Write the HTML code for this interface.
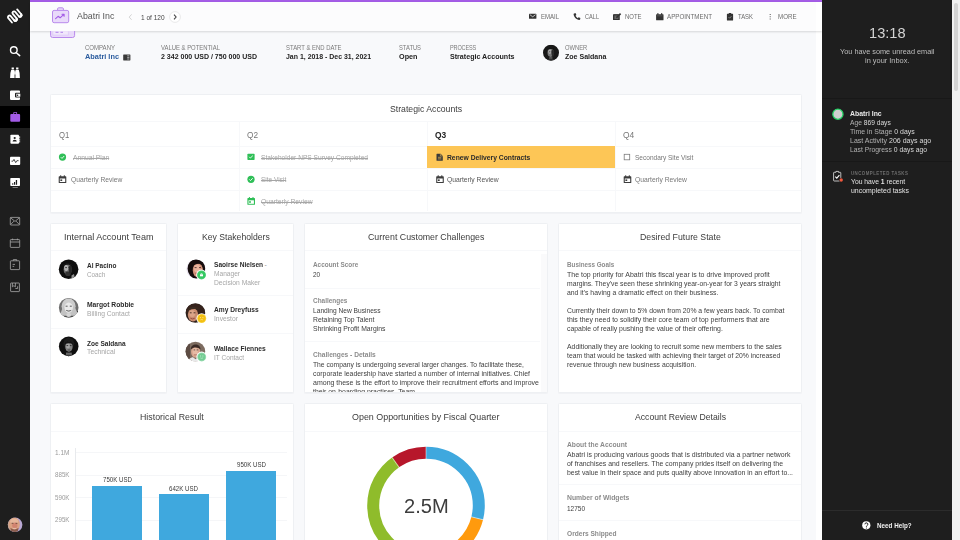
<!DOCTYPE html>
<html lang="en">
<head>
<meta charset="utf-8">
<title>Abatri Inc</title>
<style>
*{box-sizing:border-box;margin:0;padding:0}
html,body{width:960px;height:540px;overflow:hidden}
body{position:relative;background:#f8f9fb;font-family:"Liberation Sans",sans-serif;color:#333}
.abs,.t,.card,.hl,.vl,svg.i{position:absolute}
.t{white-space:nowrap;transform-origin:0 50%;display:block}
.card{background:#fff;border:1px solid #eef0f3;border-radius:1.5px;box-shadow:0 1px 1px rgba(30,40,60,.03)}
.hl{height:1px;background:#f7f8fa}
.vl{width:1px;background:#f7f8fa}
#side{left:0;top:0;width:30px;height:540px;background:#1e1e1e}
#side .act{left:0;top:106px;width:30px;height:22px;background:#000}
#topbar{left:30px;top:0;width:792px;height:1.8px;background:#a45ce6}
#hdr{left:30px;top:1.8px;width:792px;height:28.9px;background:#fcfcfd;box-shadow:0 1px 2px rgba(0,0,0,.14)}
#rp{left:822px;top:0;width:130px;height:540px;background:#1e1e1e}
#sb{left:952px;top:0;width:8px;height:540px;background:#f1f1f1}
#sb i{position:absolute;left:2px;top:3px;width:4px;height:88px;border-radius:2px;background:#d4d4d4}
</style>
</head>
<body>
<!-- main chrome -->
<div class="abs" id="side"><div class="abs act"></div></div>
<div class="abs" id="topbar"></div>
<div class="abs" style="left:816px;top:1.8px;width:6px;height:540px;background:#fff"></div>
<div class="abs" id="hdr"></div>
<div class="abs" style="left:816px;top:1.8px;width:6px;height:28.9px;background:#fff"></div>
<div class="abs" id="rp"></div>
<div class="abs" id="sb"><i></i></div>

<!-- cards -->
<div class="card" style="left:50px;top:94px;width:752px;height:119px"></div>
<div class="card" style="left:50px;top:223px;width:117px;height:170px"></div>
<div class="card" style="left:177px;top:223px;width:117px;height:170px"></div>
<div class="card" style="left:304px;top:223px;width:244px;height:170px"></div>
<div class="card" style="left:558px;top:223px;width:244px;height:170px"></div>
<div class="card" style="left:50px;top:403px;width:244px;height:150px"></div>
<div class="card" style="left:304px;top:403px;width:244px;height:150px"></div>
<div class="card" style="left:558px;top:403px;width:244px;height:150px"></div>

<!-- strategic accounts grid -->
<div class="hl" style="left:51px;top:121px;width:750px"></div>
<div class="hl" style="left:51px;top:146px;width:750px"></div>
<div class="hl" style="left:51px;top:168px;width:750px"></div>
<div class="hl" style="left:51px;top:190px;width:750px"></div>
<div class="vl" style="left:239px;top:121px;height:90px"></div>
<div class="vl" style="left:427px;top:121px;height:90px"></div>
<div class="vl" style="left:615px;top:121px;height:90px"></div>
<div class="abs" style="left:427px;top:146px;width:188px;height:22px;background:#fdc656"></div>

<!-- row2 card dividers -->
<div class="hl" style="left:51px;top:250px;width:115px"></div>
<div class="hl" style="left:51px;top:288.5px;width:115px"></div>
<div class="hl" style="left:51px;top:327.5px;width:115px"></div>
<div class="hl" style="left:178px;top:250px;width:115px"></div>
<div class="hl" style="left:178px;top:294.5px;width:115px"></div>
<div class="hl" style="left:178px;top:332.5px;width:115px"></div>
<div class="hl" style="left:305px;top:250px;width:242px"></div>
<div class="hl" style="left:305px;top:287.5px;width:235px"></div>
<div class="hl" style="left:305px;top:340.5px;width:235px"></div>
<div class="abs" style="left:540.5px;top:254px;width:6px;height:137.5px;background:#fafafb"></div>
<div class="hl" style="left:559px;top:250px;width:242px"></div>

<!-- row3 card dividers -->
<div class="hl" style="left:51px;top:430.5px;width:242px"></div>
<div class="hl" style="left:305px;top:430.5px;width:242px"></div>
<div class="hl" style="left:559px;top:430.5px;width:242px"></div>
<div class="hl" style="left:559px;top:484px;width:242px"></div>
<div class="hl" style="left:559px;top:519.5px;width:242px"></div>

<!-- bar chart -->
<div class="hl" style="left:75.5px;top:452px;width:211px;background:#f5f6f8"></div>
<div class="hl" style="left:75.5px;top:474.5px;width:211px;background:#f5f6f8"></div>
<div class="hl" style="left:75.5px;top:497px;width:211px;background:#f5f6f8"></div>
<div class="hl" style="left:75.5px;top:519.5px;width:211px;background:#f5f6f8"></div>
<div class="vl" style="left:75px;top:448px;height:92px;background:#e8eaed"></div>
<div class="abs" style="left:92px;top:486px;width:50px;height:54px;background:#3fa8de"></div>
<div class="abs" style="left:159.2px;top:494.4px;width:50px;height:46px;background:#3fa8de"></div>
<div class="abs" style="left:226.3px;top:471px;width:50px;height:69px;background:#3fa8de"></div>

<!-- donut -->
<svg class="i" style="left:360px;top:440px" width="140" height="100" viewBox="360 440 140 100">
 <g fill="none" stroke-width="12" transform="rotate(-90 426 505.5)">
  <circle cx="426" cy="505.5" r="52.8" stroke="#8fbc2b" stroke-dasharray="129.01 331.75" stroke-dashoffset="-170.48"/>
  <circle cx="426" cy="505.5" r="52.8" stroke="#ff9a0d" stroke-dasharray="75.66 331.75" stroke-dashoffset="-95.75"/>
  <circle cx="426" cy="505.5" r="52.8" stroke="#3fa8de" stroke-dasharray="95.84 331.75" stroke-dashoffset="-0.00"/>
  <circle cx="426" cy="505.5" r="52.8" stroke="#b7172b" stroke-dasharray="32.53 331.75" stroke-dashoffset="-299.22"/>
  <path d="M471.8,505.5h14" stroke="#fff" stroke-width=".5" transform="rotate(0 426 505.5)"/>
  <path d="M471.8,505.5h14" stroke="#fff" stroke-width=".5" transform="rotate(104 426 505.5)"/>
  <path d="M471.8,505.5h14" stroke="#fff" stroke-width=".5" transform="rotate(324.7 426 505.5)"/>
 </g>
</svg>

<!-- right panel dividers -->
<div class="hl" style="left:822px;top:98px;width:130px;background:#181818"></div>
<div class="hl" style="left:822px;top:161px;width:130px;background:#181818"></div>
<div class="hl" style="left:822px;top:510px;width:130px;background:#2c2c2c"></div>

<!-- sidebar icons -->
<svg class="i" style="left:0;top:0" width="30" height="540" viewBox="0 0 30 540">
 <!-- logo -->
 <g transform="translate(15.1 16) rotate(-40)" fill="none" stroke="#fff" stroke-linecap="round" stroke-linejoin="round">
  <path stroke-width="1.8" d="M-6.6,3 V-2.7 a1.55,1.55 0 0 1 3.1,0 V2.8 a1.55,1.55 0 0 0 3.1,0 V-3.1 a1.55,1.55 0 0 1 3.1,0 V2.6 a1.55,1.55 0 0 0 3.1,0 V-3.7"/>
  <path stroke-width="2.2" d="M-3.4,3 a1.5,1.5 0 0 0 2.9,0 M2.8,2.8 a1.5,1.5 0 0 0 2.9,0"/>
 </g>
 <!-- search -->
 <circle cx="13.8" cy="50.1" r="3.3" fill="none" stroke="#fff" stroke-width="1.4"/>
 <path d="M16.3,52.7 L19.7,55.6" stroke="#fff" stroke-width="1.5" stroke-linecap="round"/>
 <!-- binoculars -->
 <g fill="#fff">
  <path d="M11.6,67.6h2.3v2h-2.3z M16.1,67.6h2.3v2h-2.3z"/>
  <path d="M11.2,70.1h3.3l0.1,7.8h-4.5l0.3,-5z M15.5,70.1h3.3l0.8,2.8l0.3,5h-4.5z"/>
  <path d="M14.2,71.3h1.6v3.2h-1.6z"/>
 </g>
 <!-- wallet -->
 <path d="M11.2,90.4h7.8a1,1 0 0 1 1,1v1.4h-4a1,1 0 0 0 -1,1v2.6a1,1 0 0 0 1,1h4v1.5a1,1 0 0 1 -1,1h-7.8a1.2,1.2 0 0 1 -1.2,-1.2v-7.1a1.2,1.2 0 0 1 1.2,-1.2z" fill="#fff"/>
 <path d="M16.3,93.7h4v3h-4z" fill="#fff"/>
 <circle cx="17.5" cy="95.2" r="0.8" fill="#1e1e1e"/>
 <!-- briefcase (active) -->
 <path d="M13.3,114v-1.1a1,1 0 0 1 1,-1h1.8a1,1 0 0 1 1,1v1.1h2a1,1 0 0 1 1,1v5.7a1,1 0 0 1 -1,1h-7.8a1,1 0 0 1 -1,-1v-5.7a1,1 0 0 1 1,-1z M14.2,114h2v-1.2h-2z" fill="#a35be6" fill-rule="evenodd"/>
 <!-- contacts -->
 <path d="M11.3,134.7h6.8a.9,.9 0 0 1 .9,.9v7.2a.9,.9 0 0 1 -.9,.9h-6.8a.9,.9 0 0 1 -.9,-.9v-7.2a.9,.9 0 0 1 .9,-.9z" fill="#fff"/>
 <path d="M19.3,136.2h.8v1.8h-.8z M19.3,138.4h.8v1.8h-.8z M19.3,140.6h.8v1.8h-.8z" fill="#fff"/>
 <circle cx="14.7" cy="138" r="1.1" fill="#1e1e1e"/>
 <path d="M12.6,141.4a2.1,1.6 0 0 1 4.2,0z" fill="#1e1e1e"/>
 <!-- activity -->
 <rect x="10" y="156.7" width="10.2" height="8.3" rx="0.9" fill="#fff"/>
 <path d="M11.5,161.2h1.4l1.1,-1.8l1.7,3.2l1.2,-1.9h1.7" fill="none" stroke="#1e1e1e" stroke-width=".8" stroke-linejoin="round"/>
 <!-- chart -->
 <rect x="10.3" y="178" width="9.7" height="8" rx="0.8" fill="#fff"/>
 <path d="M12.2,184.7v-1.4h1.1v1.4z M14,184.7v-2.6h1.1v2.6z M15.8,184.7v-4.6h1.3v4.6z" fill="#1e1e1e"/>
 <path d="M12.6,187.2h5.2v.6h-5.2z" fill="#fff" opacity=".8"/>
 <!-- lower outline icons -->
 <g fill="none" stroke="#a8a8a8" stroke-width=".8" stroke-linejoin="round">
  <rect x="10.3" y="217.4" width="9.4" height="7.6" rx=".6"/>
  <path d="M10.6,217.8l4.4,3.6l4.4,-3.6 M10.6,224.6l3.2,-3.4 M19.4,224.6l-3.2,-3.4"/>
  <rect x="10.3" y="239.6" width="9.4" height="7.8" rx=".6"/>
  <path d="M10.3,242h9.4 M12.6,238.6v1.6 M17.4,238.6v1.6"/>
  <rect x="10.4" y="260.8" width="9.2" height="8.8" rx=".6"/>
  <path d="M13.3,260.8v-1.2h3.4v1.2 M12.6,264.4h2.4 M12.6,266.4h1.6"/>
  <rect x="10.6" y="283" width="8.8" height="8.6" rx=".5"/>
  <path d="M12.4,283v3.8l1.5,-1.1l1.5,1.1v-3.8 M15.4,288.5h2.2v-2.2"/>
 </g>
 <!-- user avatar -->
 <defs><filter id="blu" x="-20%" y="-20%" width="140%" height="140%"><feGaussianBlur stdDeviation="0.6"/></filter><clipPath id="cu"><circle cx="15.1" cy="524.8" r="7.3"/></clipPath></defs>
 <g clip-path="url(#cu)">
  <rect x="7" y="517" width="17" height="16" fill="#b9a8d4"/>
  <g filter="url(#blu)">
   <rect x="7" y="517" width="7" height="16" fill="#c9a58f"/>
   <ellipse cx="14.4" cy="524.4" rx="5.4" ry="6.8" fill="#dba283"/>
   <ellipse cx="14.2" cy="521.2" rx="4" ry="2.6" fill="#e6b79b"/>
   <ellipse cx="14.8" cy="525.4" rx="2.6" ry="2.8" fill="#cd7a68" opacity=".75"/>
   <path d="M10.400,527.800q4,3.600 8.200,0l-.6,3.200q-3.500,2.400 -7,0z" fill="#8b5d4d"/>
   <path d="M13,528.400h3" stroke="#ecd9cf" stroke-width=".6"/>
   <path d="M11.600,523.300h1.800 M15.600,523.300h1.800" stroke="#5a3a30" stroke-width=".8"/>
  </g>
 </g>
</svg>

<!-- header icons -->
<svg class="i" style="left:30px;top:0" width="792" height="92" viewBox="30 0 792 92">
 <!-- peeking big icon under header -->
 <path d="M50.6,31v4.500a2,2 0 0 0 2,2h20a2,2 0 0 0 2,-2v-4.500" fill="#e9dafa" stroke="#b98aec" stroke-width="1"/>
 <path d="M52.800,31.500v3.600h15.600v-3.600" fill="#f1e8fb" stroke="#d9c2f5" stroke-width=".6"/>
 <path d="M55.500,32.300h3 M60.500,32.300h2.500" stroke="#a777e6" stroke-width=".9"/>
</svg>
<svg class="i" style="left:30px;top:2px" width="792" height="28" viewBox="30 2 792 28">
 <!-- header briefcase w/ trend -->
 <path d="M57.6,10.4v-1.6a1,1 0 0 1 1,-1h3.8a1,1 0 0 1 1,1v1.6" fill="#e9dafa" stroke="#b98aec" stroke-width="1"/>
 <rect x="52.5" y="10.4" width="16.2" height="12.3" rx="1.6" fill="#e9dafa" stroke="#b98aec" stroke-width="1"/>
 <path d="M55.6,18.6l2.5,-2.3l2,1.5l3.7,-3.4 M62,14.2h2.1v2.1" fill="none" stroke="#a35be6" stroke-width="1.1" stroke-linejoin="round" stroke-linecap="round"/>
 <!-- nav chevrons -->
 <path d="M131.6,14.4l-2.4,2.7l2.4,2.7" fill="none" stroke="#d4d4d4" stroke-width="1"/>
 <circle cx="175" cy="17" r="5.4" fill="#fff" stroke="#e4e4e4" stroke-width=".8"/>
 <path d="M174,14.6l2.1,2.4l-2.1,2.4" fill="none" stroke="#444" stroke-width="1.1"/>
 <!-- email -->
 <g fill="#333">
 <path d="M529.6,13.8h6.2a.6,.6 0 0 1 .6,.6v3.8a.6,.6 0 0 1 -.6,.6h-6.200a.6,.6 0 0 1 -.6,-.6v-3.8a.6,.6 0 0 1 .6,-.6z"/>
 </g>
 <path d="M529.9,14.7l2.8,2.1l2.8,-2.1" fill="none" stroke="#fff" stroke-width=".7"/>
 <!-- call -->
 <path d="M574.2,13.4l1.3,-.3l.9,1.9l-.9,.8c.5,1 1.200,1.800 2.300,2.400l.8,-.9l1.800,.8l-.3,1.400c-.1,.3 -.4,.4 -.8,.4c-3,-.1 -5.700,-2.900 -5.700,-5.800c0,-.3 .2,-.6 .6,-.7z" fill="#333"/>
 <!-- note -->
 <path d="M613.6,14.2h5.200l-1.200,1.200h-3.200v3.600h4v-2l1.200,-1.200v3.600a.6,.6 0 0 1 -.6,.6h-5.400a.6,.6 0 0 1 -.6,-.6v-4.600a.6,.6 0 0 1 .6,-.6z" fill="#333"/>
 <path d="M616,18.200l.4,-1.600l3.600,-3.600l1.200,1.200l-3.600,3.600z" fill="#333"/>
 <rect x="613.600" y="14.200" width="6" height="5.800" rx=".6" fill="#333" opacity=".75"/>
 <!-- appointment -->
 <path d="M656.600,14.200h6.400a.5,.5 0 0 1 .5,.5v5a.5,.5 0 0 1 -.5,.5h-6.400a.5,.5 0 0 1 -.5,-.5v-5a.5,.5 0 0 1 .5,-.5z M657.400,13h1v1.600h-1z M661.200,13h1v1.600h-1z" fill="#333"/>
 <path d="M657,15.800h5.600" stroke="#777" stroke-width=".5"/>
 <!-- task -->
 <path d="M727.400,13.800h1.400v-.8h2.400v.8h1.400a.5,.5 0 0 1 .5,.5v5.600a.5,.5 0 0 1 -.5,.5h-5.200a.5,.5 0 0 1 -.5,-.5v-5.600a.5,.5 0 0 1 .5,-.5z" fill="#333"/>
 <path d="M728.600,17.200l1,1l1.800,-2" fill="none" stroke="#aaa" stroke-width=".7"/>
 <!-- more -->
 <path d="M769.700,14h1v1h-1z M769.700,16.200h1v1h-1z M769.700,18.400h1v1h-1z" fill="#555"/>
</svg>

<!-- info row: company flag icon + owner avatar -->
<svg class="i" style="left:120px;top:40px" width="450" height="30" viewBox="120 40 450 30">
 <path d="M123.600,54.600h6.400a.4,.4 0 0 1 .4,.4v5a.4,.4 0 0 1 -.4,.4h-6.400a.4,.4 0 0 1 -.4,-.4v-5a.4,.4 0 0 1 .4,-.4z" fill="#3a3a3a"/>
 <path d="M127.200,55.800h2.200 M127.200,57.400h2.200 M127.200,59h2.200" stroke="#f5f6f9" stroke-width=".6"/>
 <rect x="124.200" y="55.800" width="2" height="2.600" fill="#3a3a3a"/>
 <!-- owner avatar (dark b/w portrait) -->
 <clipPath id="cpo"><circle cx="551" cy="52.700" r="8"/></clipPath>
 <g clip-path="url(#cpo)">
  <rect x="543" y="44.700" width="16" height="16" fill="#181818"/>
  <g filter="url(#blu2)">
   <ellipse cx="550.600" cy="52.600" rx="3.100" ry="4.400" fill="#777"/>
   <ellipse cx="549.800" cy="51.600" rx="1.600" ry="2.300" fill="#a9a9a9"/>
   <ellipse cx="552.800" cy="52.800" rx="1.300" ry="3.600" fill="#2a2a2a"/>
   <path d="M547.400,50.200c.6,-3.600 6.200,-3.800 6.800,0c-2,-1.500 -4.800,-1.500 -6.800,0z" fill="#151515"/>
   <path d="M549,51.800h1.300 M551.400,51.800h1.200" stroke="#1d1d1d" stroke-width=".6"/>
   <path d="M549.200,57h3.200v3.500h-3.200z" fill="#555"/>
   <path d="M545,61c1,-3 10.500,-3 12,0z" fill="#2d2d2d"/>
  </g>
 </g>
 <defs><filter id="blu2" x="-20%" y="-20%" width="140%" height="140%"><feGaussianBlur stdDeviation="0.55"/></filter></defs>
</svg>

<!-- strategic accounts row icons -->
<svg class="i" style="left:50px;top:146px" width="752" height="66" viewBox="50 146 752 66">
 <!-- Q1 -->
 <circle cx="62.5" cy="157.1" r="3.6" fill="#2fbf57"/>
 <path d="M60.800,157.200l1.200,1.200l2.200,-2.400" fill="none" stroke="#fff" stroke-width=".9"/>
 <g id="calD">
  <path d="M59.300,176.300h6.400a.6,.6 0 0 1 .6,.6v5.500a.6,.6 0 0 1 -.6,.6h-6.400a.6,.6 0 0 1 -.6,-.6v-5.500a.6,.6 0 0 1 .6,-.6z M60.200,175.300h1v1.600h-1z M63.800,175.300h1v1.600h-1z" fill="#3d3d3d"/>
  <rect x="59.800" y="178.500" width="5.400" height="3.500" fill="#fff"/>
  <rect x="60.400" y="179.400" width="1.800" height="1.600" fill="#3d3d3d"/>
 </g>
 <!-- Q2 -->
 <rect x="247.400" y="153.800" width="7.200" height="6.200" rx=".7" fill="#2fbf57"/>
 <path d="M249.200,156.800l1.200,1.200l2.400,-2.300" fill="none" stroke="#fff" stroke-width=".9"/>
 <circle cx="251" cy="179.300" r="3.600" fill="#2fbf57"/>
 <path d="M249.300,179.400l1.200,1.200l2.200,-2.400" fill="none" stroke="#fff" stroke-width=".9"/>
 <g>
  <path d="M248,198.100h6.400a.6,.6 0 0 1 .6,.6v5.500a.6,.6 0 0 1 -.6,.6h-6.400a.6,.6 0 0 1 -.6,-.6v-5.500a.6,.6 0 0 1 .6,-.6z M248.900,197.100h1v1.600h-1z M252.500,197.100h1v1.600h-1z" fill="#2fbf57"/>
  <rect x="248.500" y="200.300" width="5.400" height="3.500" fill="#fff"/>
  <rect x="249.100" y="201.200" width="1.800" height="1.600" fill="#2fbf57"/>
 </g>
 <!-- Q3 -->
 <path d="M437,153.700h3.600l2.200,2.200v4.400a.5,.5 0 0 1 -.5,.5h-5.300a.5,.5 0 0 1 -.5,-.5v-6.100a.5,.5 0 0 1 .5,-.5z" fill="#3a3a3a"/>
 <path d="M438,157.300h3.300 M438,158.900h3.300" stroke="#fdc85b" stroke-width=".6"/>
 <path d="M440.400,153.900v2.100h2.200" fill="none" stroke="#fdc85b" stroke-width=".5"/>
 <use href="#calD" x="377.500" y="0"/>
 <!-- Q4 -->
 <rect x="624.200" y="154.300" width="5.500" height="5.500" fill="#fff" stroke="#7c7c7c" stroke-width=".8"/>
 <use href="#calD" x="565" y="0"/>
</svg>

<!-- right panel icons -->
<svg class="i" style="left:822px;top:100px" width="130" height="440" viewBox="822 100 130 440">
 <circle cx="837.900" cy="114.200" r="5.100" fill="#cfcfcf" stroke="#27d266" stroke-width="1.300"/>
 <!-- clipboard task -->
 <path d="M834.200,172.300h1.700v-.9h2.600v.9h1.700a.6,.6 0 0 1 .6,.6v7.500a.6,.6 0 0 1 -.6,.6h-6a.6,.6 0 0 1 -.6,-.6v-7.500a.6,.6 0 0 1 .6,-.6z" fill="none" stroke="#e6e6e6" stroke-width=".8"/>
 <path d="M835.300,176.600l1.500,1.500l2.600,-2.900" fill="none" stroke="#fff" stroke-width="1.100"/>
 <circle cx="841.200" cy="180" r="2.300" fill="#1e1e1e"/>
 <circle cx="841.200" cy="180" r="1.700" fill="#f0593e"/>
 <!-- need help -->
 <circle cx="866.300" cy="525.300" r="4.100" fill="#fff"/>
 <path d="M864.900,524.300a1.500,1.400 0 1 1 2.200,1.200c-.6,.4 -.7,.6 -.7,1.200" fill="none" stroke="#1e1e1e" stroke-width="1"/>
 <circle cx="866.400" cy="528" r=".6" fill="#1e1e1e"/>
</svg>

<!-- avatars -->
<svg class="i" style="left:50px;top:250px" width="250" height="120" viewBox="50 250 250 120">
 <defs>
  <filter id="bl" x="-20%" y="-20%" width="140%" height="140%"><feGaussianBlur stdDeviation="0.7"/></filter>
  <filter id="bl2" x="-20%" y="-20%" width="140%" height="140%"><feGaussianBlur stdDeviation="0.45"/></filter>
  <clipPath id="a1"><circle cx="68.600" cy="269.200" r="9.800"/></clipPath>
  <clipPath id="a2"><circle cx="68.700" cy="307.800" r="9.800"/></clipPath>
  <clipPath id="a3"><circle cx="68.700" cy="346.400" r="9.800"/></clipPath>
  <clipPath id="b1"><circle cx="196" cy="269.100" r="9.700"/></clipPath>
  <clipPath id="b2"><circle cx="195.400" cy="313" r="9.800"/></clipPath>
  <clipPath id="b3"><circle cx="195.400" cy="351.500" r="9.800"/></clipPath>
 </defs>
 <!-- Al Pacino: dark b/w -->
 <g clip-path="url(#a1)">
  <rect x="58" y="259" width="22" height="21" fill="#0e0e0e"/>
  <g filter="url(#bl)">
   <ellipse cx="67.600" cy="269.400" rx="4" ry="5.600" fill="#6c6c6c"/>
   <ellipse cx="66.200" cy="268" rx="2.100" ry="3" fill="#b2b2b2"/>
   <ellipse cx="68" cy="273.800" rx="2.800" ry="2.300" fill="#333"/>
   <ellipse cx="70.300" cy="269.400" rx="1.500" ry="4.200" fill="#262626"/>
   <path d="M62.800,266.200c1,-4.200 9,-4.600 10,0.600c-2.500,-2.400 -7,-2.600 -10,-.6z" fill="#161616"/>
   <path d="M65.200,267.600h1.800 M68.400,267.600h1.600" stroke="#222" stroke-width=".8"/>
   <path d="M71.500,275.500l2.500,-1.500l1,5h-3.500z" fill="#909090"/>
  </g>
 </g>
 <!-- Margot Robbie: light b/w -->
 <g clip-path="url(#a2)">
  <rect x="58" y="297" width="22" height="22" fill="#6f6f6f"/>
  <g filter="url(#bl)">
   <ellipse cx="68.600" cy="306.200" rx="7" ry="7.600" fill="#cdcdcd"/>
   <path d="M60,318.500c0,-6 2.600,-9 3,-13c2,4 9,4 11.500,0c.5,4 4,7 4,13z" fill="#c2c2c2"/>
   <ellipse cx="68.700" cy="307.600" rx="4.200" ry="5.200" fill="#e9e9e9"/>
   <path d="M66.200,310.400q2.500,1.900 5,0q-2.500,.9 -5,0z" fill="#fff" stroke="#5a5a5a" stroke-width=".6"/>
   <path d="M65.600,306.200h2 M69.800,306.200h2" stroke="#4a4a4a" stroke-width=".9"/>
   <path d="M58.500,319.500l3.500,-3.800h13.500l3.500,3.800z" fill="#4e4e4e"/>
   <ellipse cx="68.700" cy="315" rx="2.400" ry="2" fill="#d6d6d6"/>
   <path d="M77.500,311l1,4" stroke="#222" stroke-width="1"/>
  </g>
 </g>
 <!-- Zoe Saldana: dark b/w -->
 <g clip-path="url(#a3)">
  <rect x="58" y="336" width="22" height="22" fill="#0f0f0f"/>
  <g filter="url(#bl)">
   <ellipse cx="68.800" cy="343.600" rx="5.400" ry="5.800" fill="#1c1c1c"/>
   <ellipse cx="68.900" cy="346.800" rx="3.700" ry="5" fill="#838383"/>
   <ellipse cx="68" cy="345.800" rx="2" ry="2.600" fill="#a6a6a6"/>
   <path d="M66,352.600h5.800v4h-5.800z" fill="#666"/>
   <path d="M60.500,358c1,-4.200 15,-4.200 16.500,0z" fill="#3a3a3a"/>
   <path d="M66.500,345.600h1.700 M69.800,345.600h1.700" stroke="#1a1a1a" stroke-width=".8"/>
   <path d="M67.500,350h2.800" stroke="#3a3a3a" stroke-width=".8"/>
   <path d="M64.600,344.500c.8,-4.500 7.800,-4.500 8.600,0c-2.600,-1.800 -6,-1.800 -8.600,0z" fill="#151515"/>
  </g>
 </g>
 <!-- Saoirse Nielsen -->
 <g clip-path="url(#b1)">
  <rect x="186" y="259" width="21" height="21" fill="#ece6f1"/>
  <g filter="url(#bl)">
   <ellipse cx="196.400" cy="268.600" rx="8.800" ry="10.200" fill="#17100f"/>
   <ellipse cx="197.800" cy="270.200" rx="5" ry="7" fill="#d6957c"/>
   <ellipse cx="197.200" cy="268.600" rx="3.200" ry="4.200" fill="#e9b29c"/>
   <path d="M191.800,267c.2,-5.500 8.500,-8.500 12.600,-1.500c-3.500,-2.600 -9,-2.800 -12.600,1.500z" fill="#17100f"/>
   <path d="M195.200,273.200q2.600,1.900 5,0q-2.500,.7 -5,0z" fill="#fff" stroke="#a04f48" stroke-width=".5"/>
   <path d="M194.600,267.600h2 M199,267.600h2" stroke="#3a201a" stroke-width=".8"/>
  </g>
 </g>
 <!-- Amy Dreyfuss -->
 <g clip-path="url(#b2)">
  <rect x="185" y="303" width="21" height="21" fill="#2c1f1a"/>
  <g filter="url(#bl)">
   <path d="M185,312c1,-9 14,-12 20.500,-2v14h-6z" fill="#35241c"/>
   <ellipse cx="193" cy="314.800" rx="5.200" ry="6.600" fill="#c98c70"/>
   <ellipse cx="192.200" cy="313.500" rx="3" ry="3.600" fill="#dba488"/>
   <path d="M186.500,311.500c2,-5 9,-6.500 13.500,-2.500c-4.500,-.5 -9,0 -13.500,2.500z" fill="#3b2a20"/>
   <path d="M190.400,318.200q2.200,1.500 4.400,0" fill="none" stroke="#8c3e36" stroke-width=".8"/>
   <path d="M189.800,312.800h1.800 M193.600,312.800h1.800" stroke="#2a1a14" stroke-width=".8"/>
   <path d="M185,321l3,-1.500l4,4.500h-7z" fill="#b33a4a"/>
  </g>
 </g>
 <!-- Wallace Fiennes -->
 <g clip-path="url(#b3)">
  <rect x="185" y="341" width="21" height="22" fill="#7d6c60"/>
  <g filter="url(#bl)">
   <rect x="185" y="341" width="5" height="22" fill="#5c4c42"/>
   <ellipse cx="195.600" cy="351.800" rx="4.600" ry="6" fill="#d8a78f"/>
   <ellipse cx="195.200" cy="351.400" rx="2.600" ry="3.600" fill="#e6baa4"/>
   <path d="M190.800,349.500c-.5,-6 9.500,-7.500 9.800,0c-2.500,-2.600 -7,-2.800 -9.800,0z" fill="#3a2c25"/>
   <path d="M188,362c.5,-4 4,-4.600 5,-4.800l2.600,2l2.600,-2c1.500,.2 4.500,.8 5,4.800z" fill="#e9e9ea"/>
   <path d="M193.600,349.900h1.600 M196.600,349.900h1.600" stroke="#3a2c25" stroke-width=".7"/>
   <path d="M194,354.800h3.200" stroke="#a8665a" stroke-width=".7"/>
  </g>
 </g>
 <!-- badges -->
 <circle cx="201.500" cy="274.900" r="5.300" fill="#fff"/>
 <circle cx="201.500" cy="274.900" r="4.500" fill="#4fd37a"/>
 <circle cx="201.500" cy="274.900" r="3.700" fill="#35c862"/>
 <path d="M200,274.300h3v2h-3z" fill="#fff"/><path d="M200.900,274.300v-.7h1.200v.7" fill="none" stroke="#fff" stroke-width=".5"/>
 <circle cx="201.700" cy="318.500" r="5.300" fill="#fff"/>
 <circle cx="201.700" cy="318.500" r="4.500" fill="#f9d33f"/>
 <circle cx="201.700" cy="318.500" r="3.700" fill="#f3bf12"/>
 <path d="M200.500,317.600h.01 M202.900,317.600h.01" stroke="#fbe7a0" stroke-width="1" stroke-linecap="round"/>
 <path d="M200.400,319.900q1.300,-.9 2.600,0" fill="none" stroke="#fbe7a0" stroke-width=".6"/>
 <circle cx="201.700" cy="356.900" r="5.300" fill="#fff"/>
 <circle cx="201.700" cy="356.900" r="4.500" fill="#a3dfb9"/>
 <circle cx="201.700" cy="356.900" r="3.700" fill="#74cc93"/>
 <path d="M200.500,356h.01 M202.900,356h.01" stroke="#c9efd6" stroke-width="1" stroke-linecap="round"/>
 <path d="M200.400,357.900q1.300,.9 2.600,0" fill="none" stroke="#c9efd6" stroke-width=".6"/>
</svg>


<span class="t" style="left:77.4px;top:11.4px;font-size:8.56px;line-height:10.27px;color:#555;transform:scaleX(1.0330);">Abatri Inc</span>
<span class="t" style="left:141.3px;top:13.7px;font-size:6.44px;line-height:7.73px;color:#444;transform:scaleX(1.0137);">1 of 120</span>
<span class="t" style="left:541.0px;top:13.1px;font-size:6.44px;line-height:7.73px;color:#6b6b6b;transform:scaleX(0.9313);">EMAIL</span>
<span class="t" style="left:585.0px;top:13.1px;font-size:6.44px;line-height:7.73px;color:#6b6b6b;transform:scaleX(0.8691);">CALL</span>
<span class="t" style="left:625.0px;top:13.1px;font-size:6.44px;line-height:7.73px;color:#6b6b6b;transform:scaleX(0.9223);">NOTE</span>
<span class="t" style="left:667.0px;top:13.1px;font-size:6.44px;line-height:7.73px;color:#6b6b6b;transform:scaleX(0.9677);">APPOINTMENT</span>
<span class="t" style="left:737.5px;top:13.1px;font-size:6.44px;line-height:7.73px;color:#6b6b6b;transform:scaleX(0.9178);">TASK</span>
<span class="t" style="left:778.0px;top:13.1px;font-size:6.44px;line-height:7.73px;color:#6b6b6b;transform:scaleX(0.9579);">MORE</span>
<span class="t" style="left:85.0px;top:43.9px;font-size:6.44px;line-height:7.73px;color:#7a7a7a;transform:scaleX(0.9352);">COMPANY</span>
<span class="t" style="left:85.0px;top:52.6px;font-size:7.36px;line-height:8.83px;font-weight:700;color:#2b5c9e;transform:scaleX(1.0014);">Abatri Inc</span>
<span class="t" style="left:161.0px;top:43.9px;font-size:6.44px;line-height:7.73px;color:#7a7a7a;transform:scaleX(0.9178);">VALUE &amp; POTENTIAL</span>
<span class="t" style="left:161.0px;top:52.6px;font-size:7.36px;line-height:8.83px;font-weight:700;color:#222;transform:scaleX(0.9537);">2 342 000 USD / 750 000 USD</span>
<span class="t" style="left:285.5px;top:43.9px;font-size:6.44px;line-height:7.73px;color:#7a7a7a;transform:scaleX(0.9197);">START &amp; END DATE</span>
<span class="t" style="left:285.5px;top:52.6px;font-size:7.36px;line-height:8.83px;font-weight:700;color:#222;transform:scaleX(0.9443);">Jan 1, 2018 - Dec 31, 2021</span>
<span class="t" style="left:399.0px;top:43.9px;font-size:6.44px;line-height:7.73px;color:#7a7a7a;transform:scaleX(0.8997);">STATUS</span>
<span class="t" style="left:399.0px;top:52.6px;font-size:7.36px;line-height:8.83px;font-weight:700;color:#222;transform:scaleX(0.9834);">Open</span>
<span class="t" style="left:450.0px;top:43.9px;font-size:6.44px;line-height:7.73px;color:#7a7a7a;letter-spacing:-0.179px;transform:scaleX(0.8600);">PROCESS</span>
<span class="t" style="left:450.0px;top:52.6px;font-size:7.36px;line-height:8.83px;font-weight:700;color:#222;transform:scaleX(0.9656);">Strategic Accounts</span>
<span class="t" style="left:565.4px;top:43.9px;font-size:6.44px;line-height:7.73px;color:#7a7a7a;transform:scaleX(0.9033);">OWNER</span>
<span class="t" style="left:565.4px;top:52.6px;font-size:7.36px;line-height:8.83px;font-weight:700;color:#222;transform:scaleX(0.9571);">Zoe Saldana</span>
<span class="t" style="left:390.0px;top:103.8px;font-size:8.56px;line-height:10.27px;color:#3c3c3c;transform:scaleX(1.0170);">Strategic Accounts</span>
<span class="t" style="left:58.7px;top:131.2px;font-size:8.28px;line-height:9.94px;color:#777;transform:scaleX(0.9337);">Q1</span>
<span class="t" style="left:247.2px;top:131.2px;font-size:8.28px;line-height:9.94px;color:#777;transform:scaleX(0.9972);">Q2</span>
<span class="t" style="left:435.4px;top:131.2px;font-size:8.28px;line-height:9.94px;font-weight:700;color:#222;transform:scaleX(1.0153);">Q3</span>
<span class="t" style="left:623.3px;top:131.2px;font-size:8.28px;line-height:9.94px;color:#777;transform:scaleX(1.0153);">Q4</span>
<span class="t" style="left:72.5px;top:153.7px;font-size:6.44px;line-height:7.73px;color:#a6a6a6;transform:scaleX(1.0427);text-decoration:line-through;">Annual Plan</span>
<span class="t" style="left:70.8px;top:175.9px;font-size:6.44px;line-height:7.73px;color:#777;transform:scaleX(1.0410);">Quarterly Review</span>
<span class="t" style="left:261.1px;top:153.7px;font-size:6.44px;line-height:7.73px;color:#a6a6a6;transform:scaleX(1.0275);text-decoration:line-through;">Stakeholder NPS Survey Completed</span>
<span class="t" style="left:261.1px;top:175.9px;font-size:6.44px;line-height:7.73px;color:#a6a6a6;transform:scaleX(1.0105);text-decoration:line-through;">Site Visit</span>
<span class="t" style="left:261.1px;top:197.7px;font-size:6.44px;line-height:7.73px;color:#a6a6a6;transform:scaleX(1.0430);text-decoration:line-through;">Quarterly Review</span>
<span class="t" style="left:447.4px;top:153.7px;font-size:6.44px;line-height:7.73px;font-weight:700;color:#2a2a2a;transform:scaleX(1.0486);">Renew Delivery Contracts</span>
<span class="t" style="left:447.2px;top:175.9px;font-size:6.44px;line-height:7.73px;color:#555;transform:scaleX(1.0471);">Quarterly Review</span>
<span class="t" style="left:635.0px;top:153.7px;font-size:6.44px;line-height:7.73px;color:#777;transform:scaleX(1.0139);">Secondary Site Visit</span>
<span class="t" style="left:635.0px;top:175.9px;font-size:6.44px;line-height:7.73px;color:#777;transform:scaleX(1.0511);">Quarterly Review</span>
<span class="t" style="left:63.8px;top:232.2px;font-size:8.56px;line-height:10.27px;color:#3c3c3c;transform:scaleX(1.0602);">Internal Account Team</span>
<span class="t" style="left:86.7px;top:261.9px;font-size:6.81px;line-height:8.17px;font-weight:700;color:#2c2c2c;transform:scaleX(0.9521);">Al Pacino</span>
<span class="t" style="left:86.7px;top:271.0px;font-size:6.62px;line-height:7.94px;color:#a6a6a6;transform:scaleX(0.9576);">Coach</span>
<span class="t" style="left:86.7px;top:301.3px;font-size:6.81px;line-height:8.17px;font-weight:700;color:#2c2c2c;transform:scaleX(0.9900);">Margot Robbie</span>
<span class="t" style="left:86.7px;top:310.4px;font-size:6.62px;line-height:7.94px;color:#a6a6a6;transform:scaleX(1.0154);">Billing Contact</span>
<span class="t" style="left:86.7px;top:339.7px;font-size:6.81px;line-height:8.17px;font-weight:700;color:#2c2c2c;transform:scaleX(0.9639);">Zoe Saldana</span>
<span class="t" style="left:86.7px;top:347.8px;font-size:6.62px;line-height:7.94px;color:#a6a6a6;transform:scaleX(1.0268);">Technical</span>
<span class="t" style="left:201.7px;top:232.2px;font-size:8.56px;line-height:10.27px;color:#3c3c3c;transform:scaleX(1.0119);">Key Stakeholders</span>
<span class="t" style="left:213.7px;top:261.0px;font-size:6.81px;line-height:8.17px;font-weight:700;color:#2c2c2c;transform:scaleX(0.9699);">Saoirse Nielsen</span>
<span class="t" style="left:264.5px;top:261.0px;font-size:6.81px;line-height:8.17px;color:#8f8f8f;">-</span>
<span class="t" style="left:213.7px;top:270.0px;font-size:6.62px;line-height:7.94px;color:#a6a6a6;transform:scaleX(0.9964);">Manager</span>
<span class="t" style="left:213.7px;top:279.1px;font-size:6.62px;line-height:7.94px;color:#a6a6a6;transform:scaleX(1.0165);">Decision Maker</span>
<span class="t" style="left:213.7px;top:306.3px;font-size:6.81px;line-height:8.17px;font-weight:700;color:#2c2c2c;transform:scaleX(0.9755);">Amy Dreyfuss</span>
<span class="t" style="left:213.7px;top:314.6px;font-size:6.62px;line-height:7.94px;color:#a6a6a6;transform:scaleX(1.0206);">Investor</span>
<span class="t" style="left:213.7px;top:345.0px;font-size:6.81px;line-height:8.17px;font-weight:700;color:#2c2c2c;transform:scaleX(0.9821);">Wallace Fiennes</span>
<span class="t" style="left:213.7px;top:354.0px;font-size:6.62px;line-height:7.94px;color:#a6a6a6;transform:scaleX(0.9909);">IT Contact</span>
<span class="t" style="left:367.8px;top:232.2px;font-size:8.56px;line-height:10.27px;color:#3c3c3c;transform:scaleX(1.0295);">Current Customer Challenges</span>
<span class="t" style="left:312.8px;top:260.9px;font-size:6.62px;line-height:7.94px;font-weight:700;color:#8c8c8c;transform:scaleX(0.9688);">Account Score</span>
<span class="t" style="left:312.8px;top:271.1px;font-size:6.62px;line-height:7.94px;color:#404040;transform:scaleX(0.9783);">20</span>
<span class="t" style="left:312.8px;top:296.8px;font-size:6.62px;line-height:7.94px;font-weight:700;color:#8c8c8c;transform:scaleX(0.9755);">Challenges</span>
<span class="t" style="left:312.8px;top:307.4px;font-size:6.62px;line-height:7.94px;color:#404040;transform:scaleX(1.0037);">Landing New Business</span>
<span class="t" style="left:312.8px;top:316.3px;font-size:6.62px;line-height:7.94px;color:#404040;transform:scaleX(1.0309);">Retaining Top Talent</span>
<span class="t" style="left:312.8px;top:325.3px;font-size:6.62px;line-height:7.94px;color:#404040;transform:scaleX(1.0318);">Shrinking Profit Margins</span>
<span class="t" style="left:312.8px;top:350.7px;font-size:6.62px;line-height:7.94px;font-weight:700;color:#8c8c8c;transform:scaleX(0.9998);">Challenges - Details</span>
<span class="t" style="left:312.8px;top:361.4px;font-size:6.62px;line-height:7.94px;color:#404040;transform:scaleX(1.0206);">The company is undergoing several larger changes. To facilitate these,</span>
<span class="t" style="left:312.8px;top:370.4px;font-size:6.62px;line-height:7.94px;color:#404040;transform:scaleX(1.0472);">corporate leadership have started a number of internal initiatives. Chief</span>
<span class="t" style="left:312.8px;top:379.4px;font-size:6.62px;line-height:7.94px;color:#404040;transform:scaleX(1.0600);">among these is the effort to improve their recruitment efforts and improve</span>
<div class="abs" style="left:0;top:0;width:960px;height:392px;overflow:hidden"><span class="t" style="left:312.8px;top:388.4px;font-size:6.62px;line-height:7.94px;color:#404040;transform:scaleX(1.0411);">their on-boarding practises. Team</span></div>
<span class="t" style="left:639.6px;top:232.2px;font-size:8.56px;line-height:10.27px;color:#3c3c3c;transform:scaleX(1.0246);">Desired Future State</span>
<span class="t" style="left:567.0px;top:260.9px;font-size:6.62px;line-height:7.94px;font-weight:700;color:#8c8c8c;transform:scaleX(0.9517);">Business Goals</span>
<span class="t" style="left:567.0px;top:271.4px;font-size:6.62px;line-height:7.94px;color:#404040;transform:scaleX(1.0571);">The top priority for Abatri this fiscal year is to drive improved profit</span>
<span class="t" style="left:567.0px;top:280.4px;font-size:6.62px;line-height:7.94px;color:#404040;transform:scaleX(1.0243);">margins. They&#39;ve seen these shrinking year-on-year for 3 years straight</span>
<span class="t" style="left:567.0px;top:289.4px;font-size:6.62px;line-height:7.94px;color:#404040;transform:scaleX(1.0351);">and it&#39;s having a dramatic effect on their business.</span>
<span class="t" style="left:567.0px;top:307.4px;font-size:6.62px;line-height:7.94px;color:#404040;transform:scaleX(1.0303);">Currently their down to 5% down from 20% a few years back. To combat</span>
<span class="t" style="left:567.0px;top:316.4px;font-size:6.62px;line-height:7.94px;color:#404040;transform:scaleX(1.0509);">this they need to solidify their core team of top performers that are</span>
<span class="t" style="left:567.0px;top:325.4px;font-size:6.62px;line-height:7.94px;color:#404040;transform:scaleX(1.0427);">capable of really pushing the value of their offering.</span>
<span class="t" style="left:567.0px;top:343.4px;font-size:6.62px;line-height:7.94px;color:#404040;transform:scaleX(1.0381);">Additionally they are looking to recruit some new members to the sales</span>
<span class="t" style="left:567.0px;top:352.4px;font-size:6.62px;line-height:7.94px;color:#404040;transform:scaleX(1.0311);">team that would be tasked with achieving their target of 20% increased</span>
<span class="t" style="left:567.0px;top:361.4px;font-size:6.62px;line-height:7.94px;color:#404040;transform:scaleX(1.0333);">revenue through new business acquisition.</span>
<span class="t" style="left:140.3px;top:412.2px;font-size:8.56px;line-height:10.27px;color:#3c3c3c;transform:scaleX(1.0316);">Historical Result</span>
<span class="t" style="left:55.0px;top:448.6px;font-size:6.44px;line-height:7.73px;color:#9a9a9a;transform:scaleX(1.0131);">1.1M</span>
<span class="t" style="left:55.0px;top:471.1px;font-size:6.44px;line-height:7.73px;color:#9a9a9a;transform:scaleX(0.9637);">885K</span>
<span class="t" style="left:55.0px;top:493.6px;font-size:6.44px;line-height:7.73px;color:#9a9a9a;transform:scaleX(0.9637);">590K</span>
<span class="t" style="left:55.0px;top:516.1px;font-size:6.44px;line-height:7.73px;color:#9a9a9a;transform:scaleX(0.9637);">295K</span>
<span class="t" style="left:102.5px;top:476.1px;font-size:6.81px;line-height:8.17px;color:#3a3a3a;transform:scaleX(0.9027);">750K USD</span>
<span class="t" style="left:169.3px;top:484.7px;font-size:6.81px;line-height:8.17px;color:#3a3a3a;transform:scaleX(0.9027);">642K USD</span>
<span class="t" style="left:236.8px;top:461.0px;font-size:6.81px;line-height:8.17px;color:#3a3a3a;transform:scaleX(0.9027);">950K USD</span>
<span class="t" style="left:352.0px;top:412.2px;font-size:8.56px;line-height:10.27px;color:#3c3c3c;transform:scaleX(1.0419);">Open Opportunities by Fiscal Quarter</span>
<span class="t" style="left:403.5px;top:494.5px;font-size:19.32px;line-height:23.18px;color:#3d3d3d;transform:scaleX(1.0410);">2.5M</span>
<span class="t" style="left:634.6px;top:412.2px;font-size:8.56px;line-height:10.27px;color:#3c3c3c;transform:scaleX(1.0136);">Account Review Details</span>
<span class="t" style="left:566.7px;top:440.6px;font-size:6.62px;line-height:7.94px;font-weight:700;color:#8c8c8c;transform:scaleX(1.0191);">About the Account</span>
<span class="t" style="left:566.7px;top:451.1px;font-size:6.62px;line-height:7.94px;color:#404040;transform:scaleX(1.0488);">Abatri is producing various goods that is distributed via a partner network</span>
<span class="t" style="left:566.7px;top:460.1px;font-size:6.62px;line-height:7.94px;color:#404040;transform:scaleX(1.0467);">of franchises and resellers. The company prides itself on delivering the</span>
<span class="t" style="left:566.7px;top:469.2px;font-size:6.62px;line-height:7.94px;color:#404040;transform:scaleX(1.0413);">best value in their space and puts quality above innovation in an effort to...</span>
<span class="t" style="left:566.7px;top:494.3px;font-size:6.62px;line-height:7.94px;font-weight:700;color:#8c8c8c;transform:scaleX(1.0292);">Number of Widgets</span>
<span class="t" style="left:566.7px;top:504.9px;font-size:6.62px;line-height:7.94px;color:#404040;transform:scaleX(0.9842);">12750</span>
<span class="t" style="left:566.7px;top:530.4px;font-size:6.62px;line-height:7.94px;font-weight:700;color:#8c8c8c;transform:scaleX(0.9981);">Orders Shipped</span>
<span class="t" style="left:869.2px;top:23.5px;font-size:15.27px;line-height:18.32px;color:#d4d4d4;transform:scaleX(0.9580);">13:18</span>
<span class="t" style="left:839.7px;top:47.8px;font-size:7.18px;line-height:8.62px;color:#bdbdbd;transform:scaleX(1.0201);">You have some unread email</span>
<span class="t" style="left:864.7px;top:56.9px;font-size:7.18px;line-height:8.62px;color:#bdbdbd;transform:scaleX(1.0334);">in your Inbox.</span>
<span class="t" style="left:850.0px;top:109.6px;font-size:6.81px;line-height:8.17px;font-weight:700;color:#e8e8e8;transform:scaleX(1.0109);">Abatri Inc</span>
<span class="t" style="left:850.0px;top:118.8px;font-size:6.81px;line-height:8.17px;color:#b2b2b2;transform:scaleX(0.9813);">Age <span style="color:#dadada">869 days</span></span>
<span class="t" style="left:850.0px;top:127.7px;font-size:6.81px;line-height:8.17px;color:#b2b2b2;transform:scaleX(1.0171);">Time in Stage <span style="color:#dadada">0 days</span></span>
<span class="t" style="left:850.0px;top:136.6px;font-size:6.81px;line-height:8.17px;color:#b2b2b2;transform:scaleX(1.0330);">Last Activity <span style="color:#dadada">206 days ago</span></span>
<span class="t" style="left:850.0px;top:145.6px;font-size:6.81px;line-height:8.17px;color:#b2b2b2;transform:scaleX(0.9988);">Last Progress <span style="color:#dadada">0 days ago</span></span>
<span class="t" style="left:851.3px;top:170.8px;font-size:4.78px;line-height:5.74px;font-weight:700;color:#6e6e6e;transform:scaleX(0.9179);letter-spacing:0.5px;">UNCOMPLETED TASKS</span>
<span class="t" style="left:851.3px;top:178.0px;font-size:6.81px;line-height:8.17px;color:#e2e2e2;transform:scaleX(0.9936);">You have <b>1</b> recent</span>
<span class="t" style="left:851.3px;top:186.8px;font-size:6.81px;line-height:8.17px;color:#e2e2e2;transform:scaleX(1.0217);">uncompleted tasks</span>
<span class="t" style="left:876.7px;top:521.8px;font-size:6.62px;line-height:7.94px;font-weight:700;color:#f2f2f2;transform:scaleX(0.9516);">Need Help?</span>
</body>
</html>
